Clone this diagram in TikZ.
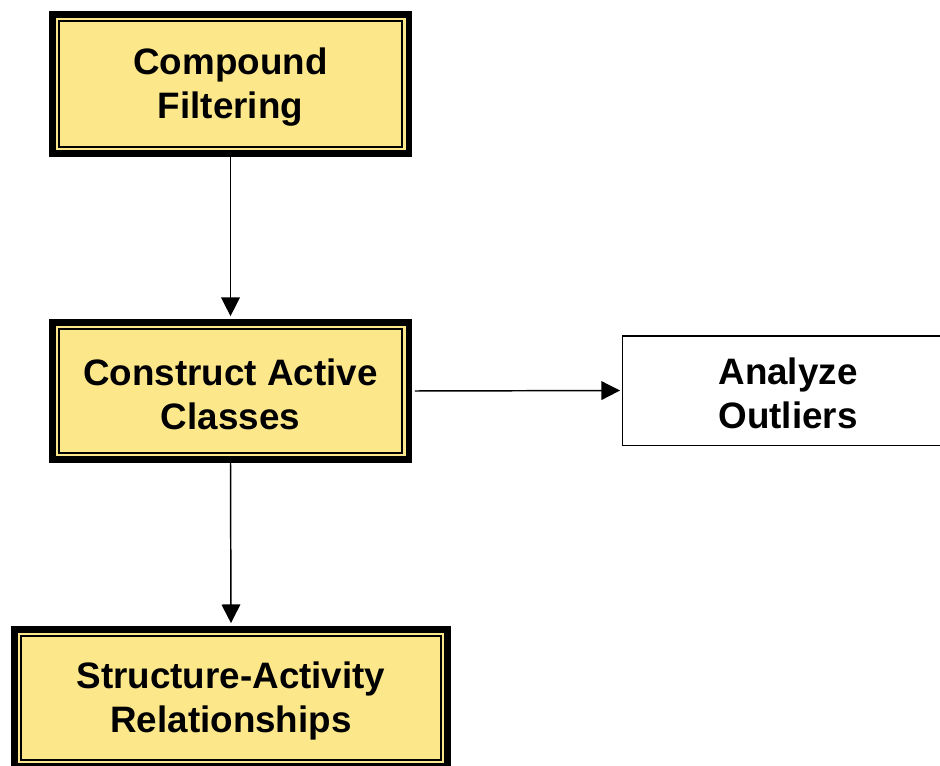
\documentclass[tikz,border=0pt]{standalone}
\usepackage{fontspec}
\setmainfont{Liberation Sans}
\usetikzlibrary{arrows.meta}
\definecolor{boxyellow}{RGB}{252,232,138}
\newcommand{\topstrut}{\rule{0pt}{25pt}}
\tikzset{
  lbl/.style={font=\bfseries\fontsize{27.6pt}{33pt}\selectfont, align=center, text=black},
  framebox/.style={lbl, draw=black, fill=boxyellow, line width=4.9pt, outer sep=0pt, inner sep=0pt,
    path picture={\draw[line width=1.1pt] ([shift={(5.1pt,-5.1pt)}]path picture bounding box.north west) rectangle ([shift={(-5.1pt,5.1pt)}]path picture bounding box.south east);}},
  plainbox/.style={lbl, draw=black, fill=white, line width=1.1pt, outer sep=0pt, inner sep=0pt},
  conn/.style={draw=black, line width=1.1pt, -{Triangle[length=14pt,width=14pt]}}
}
\begin{document}
\begin{tikzpicture}[x=0.75pt,y=-0.75pt]
\useasboundingbox (0,0) rectangle (940,765);
\node[framebox, minimum width=267.4pt, minimum height=104.6pt] (b1) at (230.5,84) {\topstrut Compound\\Filtering};
\node[framebox, minimum width=267.4pt, minimum height=103.1pt] (b2) at (230.5,391) {\topstrut Construct Active\\Classes};
\node[framebox, minimum width=325.1pt, minimum height=103.1pt] (b3) at (231,698) {\topstrut Structure-Activity\\Relationships};
\node[plainbox, minimum width=247.9pt, minimum height=82.1pt] (b4) at (788,390.5) {\topstrut Analyze\\Outliers};
\draw[conn, shorten <=2pt, shorten >=4.6pt] (b1.south) -- (b2.north);
\draw[conn, shorten <=2pt, shorten >=4.6pt] (b2.south) -- (b3.north);
\draw[conn, shorten <=4.6pt, shorten >=2pt] (b2.east) -- (b4.west);
\end{tikzpicture}
\end{document}
